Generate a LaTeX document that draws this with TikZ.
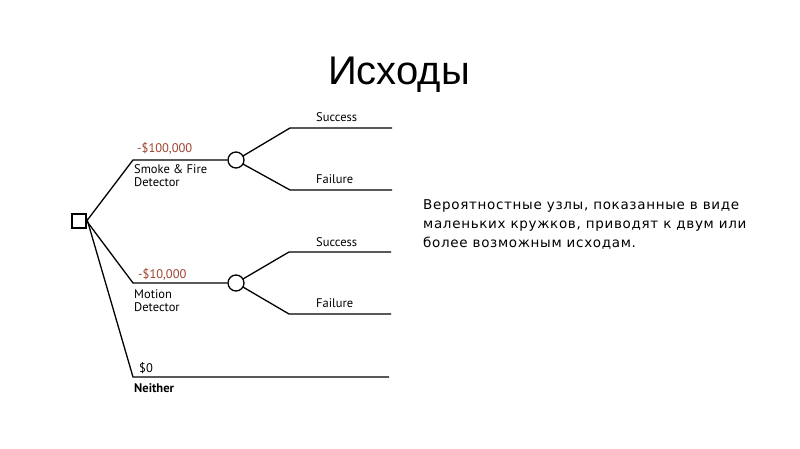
\documentclass[tikz,border=0pt]{standalone}
\usepackage{fontspec}
\setmainfont{Liberation Sans}
\newfontfamily\treefont{PT Sans}
\newfontfamily\bodyfont[LetterSpace=5]{DejaVu Sans}
\definecolor{costred}{HTML}{A0412D}
\begin{document}
\begin{tikzpicture}[x=1pt,y=-1pt,
  ln/.style={line width=1.3pt,black},
  lbl/.style={font=\treefont\fontsize{12.5}{13}\selectfont,anchor=base west,inner sep=0pt},
  cost/.style={lbl,text=costred},
  chance/.style={circle,draw,line width=1.3pt,minimum size=16pt,inner sep=0pt},
  decision/.style={rectangle,draw,line width=1.3pt,minimum size=14pt,inner sep=0pt}]
\useasboundingbox (0,0) rectangle (800,449);
\node[font=\fontsize{40}{44}\selectfont,anchor=base] (title) at (399,85) {Исходы};
\node[decision] (d) at (79,221) {};
\coordinate (a1) at (133,160);
\coordinate (a2) at (133,283);
\coordinate (a3) at (133,377);
\node[chance] (c1) at (236,160) {};
\node[chance] (c2) at (236,283) {};
\coordinate (s1a) at (290,128); \coordinate (s1b) at (392,128);
\coordinate (f1a) at (290,190); \coordinate (f1b) at (392,190);
\coordinate (s2a) at (289,252); \coordinate (s2b) at (391,252);
\coordinate (f2a) at (289,314); \coordinate (f2b) at (391,314);
\coordinate (ne) at (389,377);
\draw[ln] (d.east) -- (a1) -- (c1.west);
\draw[ln] (d.east) -- (a2) -- (c2.west);
\draw[ln] ([yshift=3pt]d.east) -- (a3) -- (ne);
\draw[ln] (c1) ++(30:8pt) -- (s1a) -- (s1b);
\draw[ln] (c1) ++(-30:8pt) -- (f1a) -- (f1b);
\draw[ln] (c2) ++(30:8pt) -- (s2a) -- (s2b);
\draw[ln] (c2) ++(-30:8pt) -- (f2a) -- (f2b);
\node[cost] (k1) at (137,153) {-\$100,000};
\node[lbl] (l1) at (134,174) {Smoke \& Fire};
\node[lbl] (l1b) at (134,187) {Detector};
\node[lbl] (ts1) at (316,122) {Success};
\node[lbl] (tf1) at (316,184) {Failure};
\node[cost] (k2) at (138,278) {-\$10,000};
\node[lbl] (l2) at (134,298) {Motion};
\node[lbl] (l2b) at (134,311) {Detector};
\node[lbl] (ts2) at (316,246) {Success};
\node[lbl] (tf2) at (316,307) {Failure};
\node[lbl] (k3) at (139,372) {\$0};
\node[lbl,font=\treefont\bfseries\fontsize{12.5}{13}\selectfont] (l3) at (134,392) {Neither};
\node[font=\bodyfont\fontsize{13.5}{18.5}\selectfont,anchor=base west,align=left,inner sep=0pt] (txt) at (423,247)
 {Вероятностные узлы, показанные в виде\\маленьких кружков, приводят к двум или\\более возможным исходам.};
\end{tikzpicture}
\end{document}
